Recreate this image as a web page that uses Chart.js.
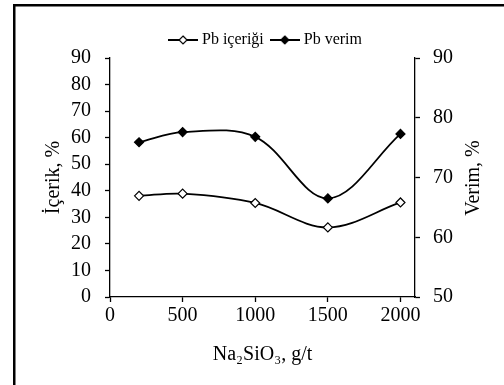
<!DOCTYPE html>
<html>
<head>
<meta charset="utf-8">
<script src="https://cdn.jsdelivr.net/npm/chart.js@4.4.1/dist/chart.umd.min.js"></script>
<style>
  html, body { margin: 0; padding: 0; background: #fff; }
  canvas { display: block; }
</style>
</head>
<body>
<canvas id="grafik" width="504" height="385"></canvas>
<script>
// Veriler
const dozajlar = [200, 500, 1000, 1500, 2000];      // Na2SiO3, g/t
const pbIcerigi = [38.1, 38.9, 35.4, 26.2, 35.6];   // sol eksen, %
const pbVerim = [75.9, 77.6, 76.8, 66.5, 77.3];     // sağ eksen, %

const xTikler = [0, 500, 1000, 1500, 2000];
const solTikler = [0, 10, 20, 30, 40, 50, 60, 70, 80, 90];
const sagTikler = [50, 60, 70, 80, 90];

const yazi = 'Liberation Serif, Times New Roman, serif';

// Lejant için çizgi + elmas simgesi
function lejantSimgesi(dolu) {
  const c = document.createElement('canvas');
  c.width = 30; c.height = 12;
  const g = c.getContext('2d');
  g.strokeStyle = '#000';
  g.lineWidth = 2;
  g.beginPath(); g.moveTo(0, 6); g.lineTo(30, 6); g.stroke();
  g.beginPath();
  g.moveTo(15, 2); g.lineTo(19, 6); g.lineTo(15, 10); g.lineTo(11, 6); g.closePath();
  g.fillStyle = dolu ? '#000' : '#fff';
  g.fill();
  g.lineWidth = 1.2;
  g.stroke();
  return c;
}

// Dış çerçeve ve sağ eksen başlığı
const ekCizim = {
  id: 'ekCizim',
  beforeDraw(chart) {
    const ctx = chart.ctx;
    ctx.save();
    ctx.fillStyle = '#fff';
    ctx.fillRect(0, 0, chart.width, chart.height);
    ctx.fillStyle = '#000';
    ctx.fillRect(13, 4, 491, 2.5);
    ctx.fillRect(13, 4, 2.5, 381);
    ctx.restore();
  },
  afterDraw(chart) {
    const ctx = chart.ctx;
    ctx.save();
    ctx.translate(474, 178);
    ctx.rotate(-Math.PI / 2);
    ctx.fillStyle = '#000';
    ctx.font = '20px ' + yazi;
    ctx.textAlign = 'center';
    ctx.textBaseline = 'middle';
    ctx.fillText('Verim, %', 0, 0);
    ctx.restore();
  }
};

function noktalar(ys) {
  return dozajlar.map((x, i) => ({ x: x, y: ys[i] }));
}

const eksenOrtak = {
  grid: { drawOnChartArea: false, drawTicks: true, tickLength: 5, color: '#000', tickColor: '#000', tickWidth: 1.3 },
  border: { display: true, color: '#000', width: 1.3 },
  ticks: { color: '#000', font: { family: yazi, size: 20 }, autoSkip: false }
};

new Chart(document.getElementById('grafik').getContext('2d'), {
  type: 'line',
  data: {
    datasets: [
      {
        label: 'Pb içeriği',
        data: noktalar(pbIcerigi),
        yAxisID: 'ySol',
        borderColor: '#000',
        borderWidth: 1.8,
        tension: 0.35,
        pointStyle: 'rectRot',
        pointRadius: 4.5,
        pointBackgroundColor: '#fff',
        pointBorderColor: '#000',
        pointBorderWidth: 1.2
      },
      {
        label: 'Pb verim',
        data: noktalar(pbVerim),
        yAxisID: 'ySag',
        borderColor: '#000',
        borderWidth: 1.8,
        tension: 0.35,
        pointStyle: 'rectRot',
        pointRadius: 4.5,
        pointBackgroundColor: '#000',
        pointBorderColor: '#000',
        pointBorderWidth: 1.2
      }
    ]
  },
  options: {
    responsive: false,
    devicePixelRatio: 1,
    animation: false,
    layout: { padding: { top: 16, left: 30, right: 0, bottom: 18 } },
    plugins: {
      tooltip: { enabled: false },
      legend: {
        position: 'top',
        align: 'center',
        labels: {
          usePointStyle: true,
          pointStyleWidth: 22,
          padding: 10,
          color: '#000',
          font: { family: yazi, size: 16 },
          generateLabels(chart) {
            return chart.data.datasets.map((ds, i) => ({
              text: ds.label,
              datasetIndex: i,
              pointStyle: lejantSimgesi(i === 1),
              fillStyle: '#000',
              strokeStyle: '#000',
              lineWidth: 0,
              fontColor: '#000',
              hidden: false
            }));
          }
        }
      }
    },
    scales: {
      x: {
        type: 'linear',
        position: 'bottom',
        min: 0,
        max: 2100,
        afterBuildTicks(s) { s.ticks = xTikler.map(v => ({ value: v })); },
        afterFit(s) { s.height = 70; },
        grid: eksenOrtak.grid,
        border: eksenOrtak.border,
        ticks: Object.assign({}, eksenOrtak.ticks, { padding: 2, maxRotation: 0, callback: v => String(v) }),
        title: { display: true, text: 'Na₂SiO₃, g/t', color: '#000', font: { family: yazi, size: 20 }, padding: { top: 0, bottom: 0 } }
      },
      ySol: {
        type: 'linear',
        position: 'left',
        min: 0,
        max: 90,
        afterBuildTicks(s) { s.ticks = solTikler.map(v => ({ value: v })); },
        afterFit(s) { s.width = 80; s.paddingTop = 58; },
        grid: eksenOrtak.grid,
        border: eksenOrtak.border,
        ticks: Object.assign({}, eksenOrtak.ticks, { padding: 14 }),
        title: { display: true, text: 'İçerik, %', color: '#000', font: { family: yazi, size: 20 }, padding: { top: 12, bottom: 0 } }
      },
      ySag: {
        type: 'linear',
        position: 'right',
        min: 50,
        max: 90,
        afterBuildTicks(s) { s.ticks = sagTikler.map(v => ({ value: v })); },
        afterFit(s) { s.width = 89; },
        grid: eksenOrtak.grid,
        border: eksenOrtak.border,
        ticks: Object.assign({}, eksenOrtak.ticks, { padding: 13 })
      }
    }
  },
  plugins: [ekCizim]
});
</script>
</body>
</html>
